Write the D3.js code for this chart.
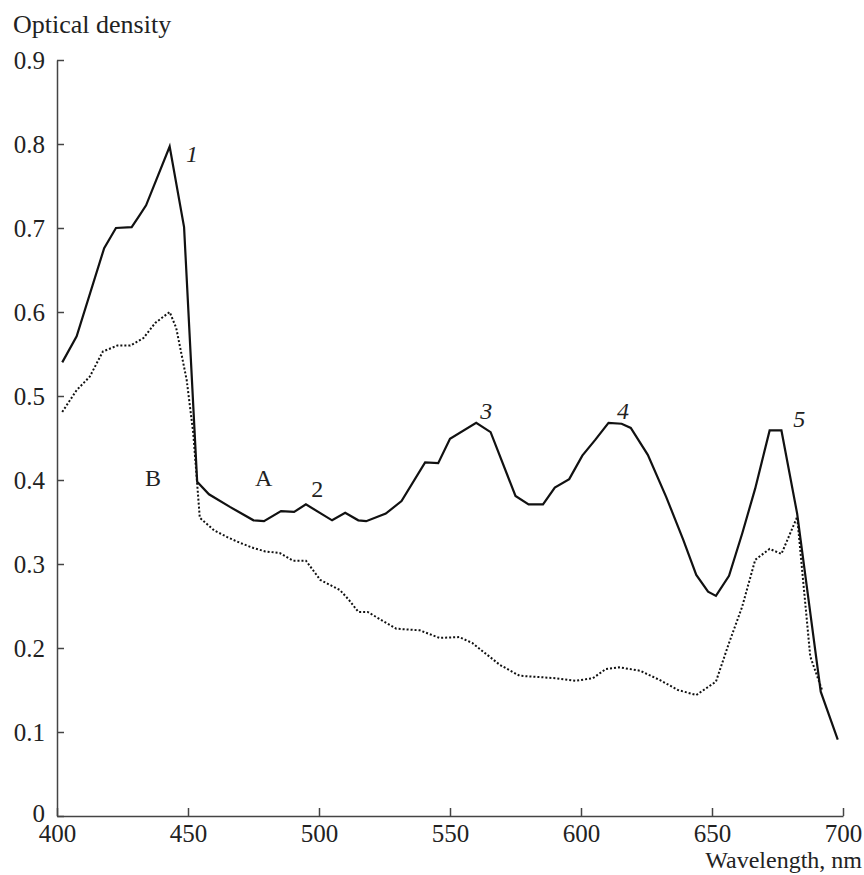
<!DOCTYPE html>
<html>
<head>
<meta charset="utf-8">
<script src="https://cdn.jsdelivr.net/npm/d3@7"></script>
<style>
  body { margin: 0; background: #fff; }
  svg text { font-family: "Liberation Serif", "DejaVu Serif", serif; fill: #222; }
</style>
</head>
<body>
<div id="chart"></div>
<script>
// curve A (solid)
const waveA = [402, 407.5, 418, 422.5, 428.5, 431.5, 434, 443, 448.5, 453.5, 458, 466, 475, 479, 485.5, 490.5, 495, 505, 510, 515, 518, 525.5, 531.5, 540.5, 545.5, 550, 560, 565.5, 575, 580, 585.5, 590, 595.5, 600.5, 605.5, 610.5, 615.5, 619, 625.5, 632.5, 639, 644, 648.5, 651.5, 656.5, 661.5, 666.5, 672, 676.5, 682.5, 691.5, 698];
const densA = [0.54, 0.571, 0.676, 0.700, 0.701, 0.715, 0.727, 0.797, 0.701, 0.398, 0.383, 0.368, 0.352, 0.351, 0.363, 0.362, 0.371, 0.352, 0.361, 0.352, 0.351, 0.360, 0.375, 0.421, 0.420, 0.449, 0.468, 0.457, 0.381, 0.371, 0.371, 0.391, 0.401, 0.429, 0.448, 0.468, 0.467, 0.462, 0.43, 0.38, 0.329, 0.287, 0.267, 0.262, 0.286, 0.336, 0.39, 0.459, 0.459, 0.36, 0.148, 0.091];

// curve B (dotted)
const waveB = [402, 407.5, 412.5, 417.5, 423, 428, 433, 437.5, 443, 445.5, 449.5, 452, 454.5, 460, 465, 470, 475, 479.5, 485, 490, 495, 500.5, 508, 511.5, 515, 518.5, 529.5, 538.5, 546, 553.5, 558.5, 569, 576.5, 590.5, 598, 604.5, 609.5, 614.5, 622.5, 630, 637, 644, 651.5, 656.5, 661.5, 666.5, 672, 676.5, 682.5, 687.5, 692];
const densB = [0.481, 0.507, 0.523, 0.553, 0.560, 0.560, 0.569, 0.587, 0.600, 0.581, 0.519, 0.456, 0.355, 0.34, 0.332, 0.325, 0.319, 0.315, 0.313, 0.304, 0.304, 0.281, 0.269, 0.257, 0.243, 0.243, 0.223, 0.221, 0.212, 0.213, 0.206, 0.180, 0.167, 0.164, 0.161, 0.164, 0.175, 0.177, 0.173, 0.162, 0.150, 0.144, 0.160, 0.206, 0.249, 0.305, 0.318, 0.312, 0.356, 0.19, 0.15];

const xTicks = [400, 450, 500, 550, 600, 650, 700];
const yTicks = [0, 0.1, 0.2, 0.3, 0.4, 0.5, 0.6, 0.7, 0.8, 0.9];

// peak / curve labels
const peakLabels = [
  { text: "1", wave: 449.2, dens: 0.779, italic: true },
  { text: "2", wave: 497, dens: 0.38, italic: false },
  { text: "3", wave: 561.5, dens: 0.473, italic: true },
  { text: "4", wave: 613.7, dens: 0.473, italic: true },
  { text: "5", wave: 681, dens: 0.463, italic: true },
  { text: "A", wave: 475.6, dens: 0.393, italic: false },
  { text: "B", wave: 433.6, dens: 0.393, italic: false }
];

const width = 864, height = 875;
const margin = { top: 60, right: 21, bottom: 59, left: 57 };

const svg = d3.select("#chart").append("svg")
  .attr("width", width)
  .attr("height", height);

const x = d3.scaleLinear().domain([400, 700]).range([margin.left, width - margin.right]);
const y = d3.scaleLinear().domain([0, 0.9]).range([height - margin.bottom, margin.top]);

// axes
const xAxis = svg.append("g")
  .attr("transform", `translate(0,${y(0)})`)
  .call(d3.axisBottom(x).tickValues(xTicks).tickSizeInner(-8).tickSizeOuter(0).tickPadding(8));
xAxis.selectAll("text").attr("font-size", 25).attr("dy", "0.71em");

const yAxis = svg.append("g")
  .attr("transform", `translate(${x(400)},0)`)
  .call(d3.axisLeft(y).tickValues(yTicks).tickSizeInner(-7).tickSizeOuter(0).tickPadding(12)
    .tickFormat(d => d === 0 ? "0" : d3.format(".1f")(d)));
yAxis.selectAll("text").attr("font-size", 25)
  .attr("dy", d => d === 0 ? "0.2em" : "0.32em");

svg.selectAll("g").attr("font-family", "Liberation Serif, serif");
svg.selectAll(".domain, .tick line").attr("stroke", "#444").attr("stroke-width", 1.5);

// curves
const line = d3.line().x(d => x(d[0])).y(d => y(d[1]));

svg.append("path")
  .datum(d3.zip(waveB, densB))
  .attr("fill", "none")
  .attr("stroke", "#111")
  .attr("stroke-width", 2)
  .attr("stroke-dasharray", "2,2")
  .attr("d", line);

svg.append("path")
  .datum(d3.zip(waveA, densA))
  .attr("fill", "none")
  .attr("stroke", "#111")
  .attr("stroke-width", 2.2)
  .attr("d", line);

// labels
svg.selectAll(".peak")
  .data(peakLabels)
  .join("text")
    .attr("class", "peak")
    .attr("x", d => x(d.wave))
    .attr("y", d => y(d.dens))
    .attr("font-size", 24)
    .attr("font-style", d => d.italic ? "italic" : "normal")
    .text(d => d.text);

svg.append("text")
  .attr("x", 13)
  .attr("y", 33)
  .attr("font-size", 26)
  .text("Optical density");

svg.append("text")
  .attr("x", 862)
  .attr("y", 868)
  .attr("text-anchor", "end")
  .attr("font-size", 24)
  .text("Wavelength, nm");
</script>
</body>
</html>
